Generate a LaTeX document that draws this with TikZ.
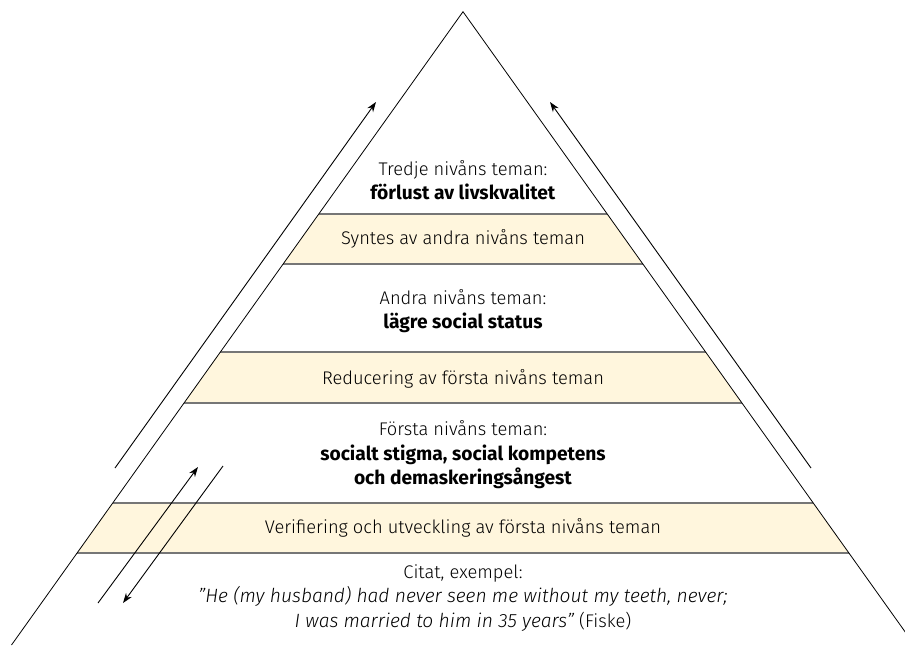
\documentclass[tikz,border=0pt]{standalone}
\usepackage{fontspec}
\setmainfont{Fira Sans}[UprightFont=* Light, BoldFont=* Bold, BoldFeatures={Scale=1.05},
  ItalicFont=* Light Italic, ItalicFeatures={Scale=1.05}]
\usepackage{tikz}
\usetikzlibrary{calc,arrows.meta,positioning}

\definecolor{bandyellow}{RGB}{255,246,221}
\definecolor{bandgray}{RGB}{118,118,118}

\tikzset{
  edge/.style={black, line width=0.8pt},
  bandfill/.style={fill=bandyellow},
  bandline/.style={bandgray, line width=1.6pt},
  flow/.style={black, line width=0.9pt, -{Stealth[length=10pt,width=7pt]}},
  txt/.style={align=center, inner sep=0pt, font=\fontsize{18.3}{24.5}\selectfont}
}

\begin{document}
\begin{tikzpicture}[x=1pt,y=-1pt]
\useasboundingbox (0,0) rectangle (905,646);

% corners of the pyramid
\coordinate (apex) at (463,11.7);
\coordinate (bl) at (11.5,645);
\coordinate (br) at (914.5,645);

% coloured bands
\begin{scope}
\clip (apex) -- (bl) -- (br) -- cycle;
\fill[bandfill] (0,214) rectangle (905,264);
\fill[bandfill] (0,352) rectangle (905,403);
\fill[bandfill] (0,503) rectangle (905,553);
\draw[bandline] (0,214) -- (905,214);
\draw[bandline] (0,264) -- (905,264);
\draw[bandline] (0,352) -- (905,352);
\draw[bandline] (0,403) -- (905,403);
\draw[bandline] (0,503) -- (905,503);
\draw[bandline] (0,553) -- (905,553);
\end{scope}

% sides
\draw[edge] (bl) -- (apex) -- (br);

% level texts
\node[txt] (lvl3) at (463,180) {Tredje nivåns teman:\\\textbf{förlust av livskvalitet}};
\node[txt] (syn2) at (463,239) {Syntes av andra nivåns teman};
\node[txt] (lvl2) at (463,311) {Andra nivåns teman:\\\textbf{lägre social status}};
\node[txt] (red1) at (463,379) {Reducering av första nivåns teman};
\node[txt] (lvl1) at (463,455) {Första nivåns teman:\\\textbf{socialt stigma, social kompetens}\\\textbf{och demaskeringsångest}};
\node[txt] (ver1) at (463,528) {Verifiering och utveckling av första nivåns teman};
\node[txt] (cite) at (463,598) {Citat, exempel:\\\textit{"He (my husband) had never seen me without my teeth, never;}\\\textit{I was married to him in 35 years"} (Fiske)};

% arrows along the sides
\coordinate (lfoot) at (115,468);
\coordinate (ltop) at (376,102);
\coordinate (rfoot) at (811,468);
\coordinate (rtop) at (550,102);
\draw[flow] (lfoot) -- (ltop);
\draw[flow] (rfoot) -- (rtop);

% back and forth
\coordinate (upfoot) at (98,603);
\coordinate (uptop) at (198,467);
\coordinate (dntop) at (223,466);
\coordinate (dnfoot) at (123,603);
\draw[flow] (upfoot) -- (uptop);
\draw[flow] (dntop) -- (dnfoot);

\end{tikzpicture}
\end{document}
